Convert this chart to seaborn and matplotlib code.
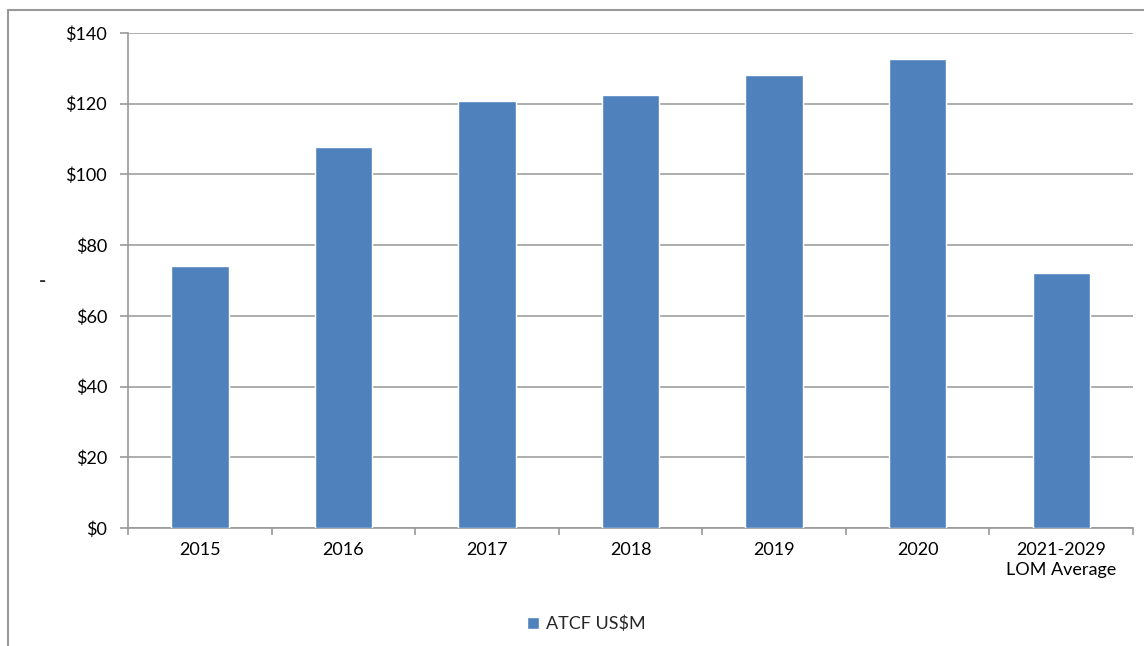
import matplotlib
matplotlib.use("Agg")
import matplotlib.pyplot as plt
import seaborn as sns
import numpy as np
from matplotlib.patches import Rectangle

categories = ["2015", "2016", "2017", "2018", "2019", "2020", "2021-2029\nLOM Average"]
atcf = [74.1, 107.7, 120.8, 122.5, 128.1, 132.6, 72.1]
series_name = "ATCF US$M"
yticks = [0, 20, 40, 60, 80, 100, 120, 140]

sns.set_style("white")
plt.rcParams["font.family"] = ["Lato", "DejaVu Sans"]
plt.rcParams["font.size"] = 13

fig = plt.figure(figsize=(11.44, 6.46), dpi=100)
ax = fig.add_axes([0.1119, 0.1827, 0.8785, 0.7662])

sns.barplot(x=categories, y=atcf, color="#4F81BD", saturation=1, width=0.4,
            label=series_name, ax=ax, zorder=3)

ax.set_ylim(0, 140)
ax.set_xlim(-0.5, len(categories) - 0.5)
ax.set_yticks(yticks)
ax.set_yticklabels([f"${v}" for v in yticks])
ax.yaxis.grid(True, color="#A0A0A0", linewidth=1.2, zorder=0)
ax.set_axisbelow(True)

for s in ["top", "right"]:
    ax.spines[s].set_visible(False)
for s in ["left", "bottom"]:
    ax.spines[s].set_color("#999999")
    ax.spines[s].set_linewidth(1.2)

ax.tick_params(axis="y", which="major", direction="out", length=6, width=1.2,
               color="#999999", left=True, labelsize=13, pad=9, labelcolor="black")
ax.tick_params(axis="x", which="major", length=0, labelsize=13, pad=10, labelcolor="black")
for lbl in ax.get_xticklabels():
    lbl.set_linespacing(1.3)
ax.set_xticks(np.arange(-0.5, len(categories)), minor=True)
ax.tick_params(axis="x", which="minor", direction="out", length=5, width=1.2,
               color="#999999", bottom=True)

ax.set_xlabel("")
ax.set_ylabel("-", rotation=0, fontsize=14, fontweight="bold", labelpad=0)
ax.yaxis.set_label_coords(-0.085, 0.48)

ax.legend(loc="upper center", bbox_to_anchor=(0.456, -0.145), frameon=False,
          handlelength=0.7, handleheight=0.7, handletextpad=0.4, fontsize=13)

fig.patches.append(Rectangle((0.007, -0.1), 1.2, 1.0845, transform=fig.transFigure,
                             fill=False, edgecolor="#999999", linewidth=1.5))

fig.savefig("out.png", dpi=100)
